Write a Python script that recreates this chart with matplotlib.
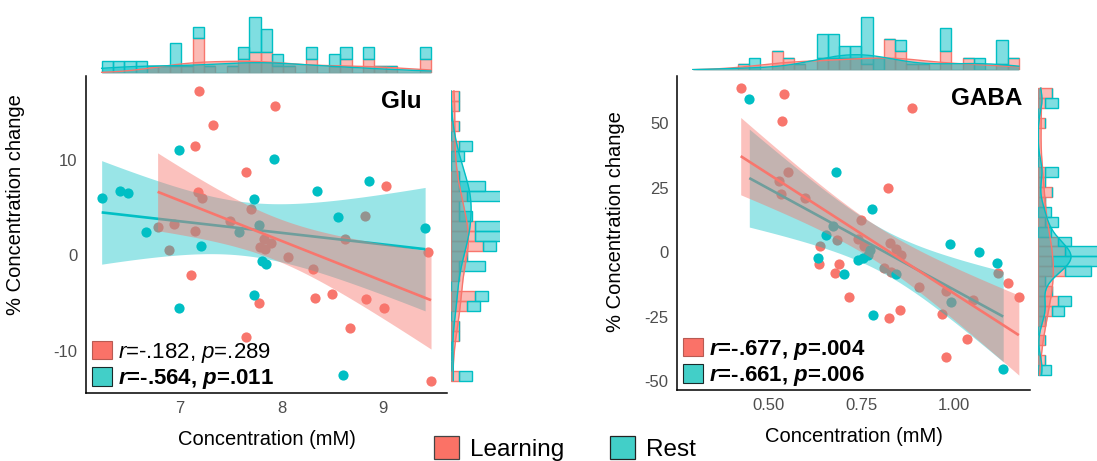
import numpy as np
import matplotlib
matplotlib.use('Agg')
import matplotlib.pyplot as plt
from matplotlib.patches import Patch
from matplotlib.colors import to_rgba

plt.rcParams['font.family'] = ['Liberation Sans', 'DejaVu Sans']
plt.rcParams['mathtext.fontset'] = 'custom'
plt.rcParams['mathtext.rm'] = 'Liberation Sans'
plt.rcParams['mathtext.it'] = 'Liberation Sans:italic'
plt.rcParams['mathtext.bf'] = 'Liberation Sans:bold'
plt.rcParams['mathtext.bfit'] = 'Liberation Sans:bold:italic'

# ---------------- data ----------------
glu_learn_x = [7.187, 7.934, 7.32, 7.147, 7.65, 9.026, 7.18, 7.216, 7.695, 7.49, 6.78, 6.94,
               7.15, 6.895, 7.83, 7.89, 7.79, 7.84, 8.06, 8.625, 8.816, 9.435, 8.31, 7.11,
               8.33, 8.49, 8.83, 9.006, 7.777, 8.67, 7.646, 9.468]
glu_learn_y = [17.2, 15.66, 13.6, 11.4, 8.68, 7.26, 6.67, 5.94, 4.79, 3.57, 2.95, 3.3,
               2.53, 0.52, 1.74, 1.32, 0.86, 0.7, -0.17, 1.67, 4.06, 0.38, -1.39, -2.05,
               -4.44, -4.0, -4.6, -5.56, -5.03, -7.64, -8.5, -13.1]
glu_rest_x = [6.23, 6.41, 6.486, 6.99, 7.924, 8.35, 8.86, 7.73, 6.666, 8.557, 9.41, 7.577,
              7.78, 7.21, 7.81, 7.846, 7.73, 6.99, 8.6]
glu_rest_y = [5.97, 6.77, 6.49, 11.04, 10.1, 6.7, 7.74, 5.9, 2.47, 3.96, 2.81, 2.47,
              3.125, 1.0, -0.6, -0.87, -4.17, -5.56, -12.5]

gaba_learn_x = [0.4266, 0.5439, 0.5385, 0.887, 0.530, 0.553, 0.536, 0.5986, 0.751, 0.822,
                0.64, 0.686, 0.741, 0.758, 0.828, 0.843, 0.857, 0.638, 0.691, 0.681, 0.8127,
                0.831, 0.907, 0.978, 1.119, 1.144, 1.174, 1.051, 0.718, 0.968, 0.8557, 0.826,
                1.036, 0.978]
gaba_learn_y = [63.6, 61.3, 50.8, 56.1, 27.8, 31.0, 22.7, 21.1, 12.4, 25.1,
                2.3, 4.9, 5.15, 2.3, 3.7, 1.4, -1.2, -4.4, -4.6, -7.8, -6.1,
                -7.6, -13.5, -14.9, -8.1, -11.7, -17.4, -18.3, -17.4, -23.7, -22.4, -25.6,
                -33.7, -40.4]
gaba_rest_x = [0.4497, 0.6836, 0.780, 0.6756, 0.655, 0.635, 0.704, 0.743, 0.756, 0.77,
               0.774, 0.99, 1.066, 1.114, 0.843, 0.992, 0.783, 1.132]
gaba_rest_y = [59.2, 31.2, 16.7, 10.3, 6.8, -2.2, -8.4, -3.1, -2.0, -1.2,
               0.8, 3.4, 0.1, -4.0, -8.2, -19.2, -24.3, -45.1]

glu_labels = [r'$\mathit{r}$=-.182, $\mathit{p}$=.289', r'$\mathbfit{r}$=-.564, $\mathbfit{p}$=.011']
gaba_labels = [r'$\mathbfit{r}$=-.677, $\mathbfit{p}$=.004', r'$\mathbfit{r}$=-.661, $\mathbfit{p}$=.006']
glu_bold = [False, True]
gaba_bold = [True, True]
groups = ['Learning', 'Rest']

# ---------------- style ----------------
RED = '#F8766D'
TEAL = '#00BFC4'
W, H = 1097, 461
fig = plt.figure(figsize=(W / 100, H / 100), dpi=100)


def ax_px(l, t, r, b):
    return fig.add_axes([l / W, 1 - b / H, (r - l) / W, (b - t) / H])


def tcrit(df):
    z = 1.959964
    return (z + (z**3 + z) / (4 * df) + (5 * z**5 + 16 * z**3 + 3 * z) / (96 * df**2)
            + (3 * z**7 + 19 * z**5 + 17 * z**3 - 15 * z) / (384 * df**3))


def smooth(ax, x, y, color, alpha, z):
    x = np.asarray(x); y = np.asarray(y)
    b, a = np.polyfit(x, y, 1)
    xs = np.linspace(x.min(), x.max(), 200)
    n = len(x)
    yh = a + b * xs
    s = np.sqrt(np.sum((y - (a + b * x))**2) / (n - 2))
    se = s * np.sqrt(1 / n + (xs - x.mean())**2 / np.sum((x - x.mean())**2))
    t = tcrit(n - 2)
    ax.fill_between(xs, yh - t * se, yh + t * se, color=color, alpha=alpha, lw=0, zorder=z)
    ax.plot(xs, yh, color=color, lw=1.9, zorder=z + 0.5, solid_capstyle='butt')


def kde(v, grid):
    v = np.asarray(v); n = len(v)
    sd = v.std(ddof=1)
    q75, q25 = np.percentile(v, [75, 25])
    bw = 0.9 * min(sd, (q75 - q25) / 1.34) * n ** -0.2
    return np.exp(-0.5 * ((grid[:, None] - v[None, :]) / bw)**2).sum(1) / (n * bw * np.sqrt(2 * np.pi))


def marg(ax, vr, vt, lo, hi, orient):
    edges = np.linspace(lo, hi, 30)
    w = np.diff(edges)
    hr, _ = np.histogram(vr, edges); hr = hr / (len(vr) * w)
    ht, _ = np.histogram(vt, edges); ht = ht / (len(vt) * w)
    grid = np.linspace(lo, hi, 300)
    dr = kde(vr, grid); dt = kde(vt, grid)
    fr = to_rgba(RED, 0.5); ft = to_rgba(TEAL, 0.5)
    if orient == 'v':
        ax.bar(edges[:-1], hr, width=w, align='edge', color=fr, edgecolor=RED, lw=1)
        ax.bar(edges[:-1], ht, bottom=hr, width=w, align='edge', color=ft, edgecolor=TEAL, lw=1)
        ax.fill_between(grid, 0, dr, color=RED, alpha=0.5, lw=0)
        ax.fill_between(grid, 0, dt, color=TEAL, alpha=0.5, lw=0)
        ax.plot(grid, dr, color=RED, lw=1)
        ax.plot(grid, dt, color=TEAL, lw=1)
    else:
        ax.barh(edges[:-1], hr, height=w, align='edge', color=fr, edgecolor=RED, lw=1)
        ax.barh(edges[:-1], ht, left=hr, height=w, align='edge', color=ft, edgecolor=TEAL, lw=1)
        ax.fill_betweenx(grid, 0, dr, color=RED, alpha=0.5, lw=0)
        ax.fill_betweenx(grid, 0, dt, color=TEAL, alpha=0.5, lw=0)
        ax.plot(dr, grid, color=RED, lw=1)
        ax.plot(dt, grid, color=TEAL, lw=1)
    ax.axis('off')


def panel(box, top_box, right_box, lx, ly, tx, ty, xlim, ylim, xticks, xtl, yticks,
          title, title_xy, labels, bold, ylab_xy, top_ylim, right_xlim):
    ax = ax_px(*box)
    ax.scatter(lx, ly, s=54, color=RED, lw=0, zorder=1)
    ax.scatter(tx, ty, s=54, color=TEAL, lw=0, zorder=1)
    smooth(ax, tx, ty, TEAL, 0.4, 2)
    smooth(ax, lx, ly, RED, 0.45, 3)
    ax.set_xlim(xlim); ax.set_ylim(ylim)
    ax.set_xticks(xticks); ax.set_xticklabels(xtl)
    ax.set_yticks(yticks); ax.set_yticklabels([str(v) for v in yticks])
    for sp in ['top', 'right']:
        ax.spines[sp].set_visible(False)
    for sp in ['left', 'bottom']:
        ax.spines[sp].set_linewidth(1.1)
        ax.spines[sp].set_color('black')
    ax.tick_params(length=0, labelsize=12, colors='#4D4D4D', pad=6)
    ax.set_xlabel('Concentration (mM)', fontsize=14.5, labelpad=10)
    ax.set_ylabel('% Concentration change', fontsize=14.5)
    ax.yaxis.set_label_coords(*ylab_xy)
    ax.text(title_xy[0], title_xy[1], title, transform=ax.transAxes, ha='right', va='center',
            fontsize=17.5, fontweight='bold')
    handles = [Patch(facecolor='#FA7268', edgecolor='#B85A52', lw=0.8),
               Patch(facecolor='#42CFC8', edgecolor='#1A2A2A', lw=0.8)]
    leg = ax.legend(handles, labels, loc='lower left', bbox_to_anchor=(0.0, -0.012), frameon=False,
                    fontsize=16, handlelength=0.9, handleheight=0.9, handletextpad=0.3,
                    labelspacing=0.12, borderpad=0.25, borderaxespad=0.0)
    for t, b in zip(leg.get_texts(), bold):
        if b:
            t.set_fontweight('bold')
    # marginals
    axt = ax_px(*top_box[:4])
    marg(axt, lx, tx, top_box[4], top_box[5], 'v')
    axt.set_xlim(xlim); axt.set_ylim(top_ylim)
    axr = ax_px(*right_box[:4])
    marg(axr, ly, ty, right_box[4], right_box[5], 'h')
    axr.set_ylim(ylim); axr.set_xlim(right_xlim)
    return ax


# Glu panel
panel((86, 76, 447, 393), (86, 12, 447, 73, 6.23, 9.468), (451, 76, 500, 393, -13.1, 17.2),
      glu_learn_x, glu_learn_y, glu_rest_x, glu_rest_y,
      (6.076, 9.625), (-14.4, 18.75), [7, 8, 9], ['7', '8', '9'], [-10, 0, 10],
      'Glu', (0.931, 0.921), glu_labels, glu_bold, (-0.169, 0.596), (0, 2.46), (0, 0.186))

# GABA panel
panel((677, 76, 1030, 390), (677, 12, 1030, 70, 0.298, 1.174), (1038, 76, 1097, 390, -47.5, 63.6),
      gaba_learn_x, gaba_learn_y, gaba_rest_x, gaba_rest_y,
      (0.2554, 1.204), (-53.3, 68.3), [0.5, 0.75, 1.0], ['0.50', '0.75', '1.00'],
      [-50, -25, 0, 25, 50],
      'GABA', (0.977, 0.927), gaba_labels, gaba_bold, (-0.147, 0.535), (0, 9.1), (0, 0.067))

# bottom legend
bh = [Patch(facecolor='#FB7266', edgecolor='#444444', lw=0.9),
      Patch(facecolor='#42CFC8', edgecolor='#222222', lw=0.9)]
fig.legend(bh, groups, loc='lower center', bbox_to_anchor=(565 / W, -0.026), ncol=2,
           frameon=False, fontsize=17.5, handlelength=1.03, handleheight=1.03,
           handletextpad=0.45, columnspacing=1.9, borderpad=0.0)

fig.savefig('out.png', dpi=100)
